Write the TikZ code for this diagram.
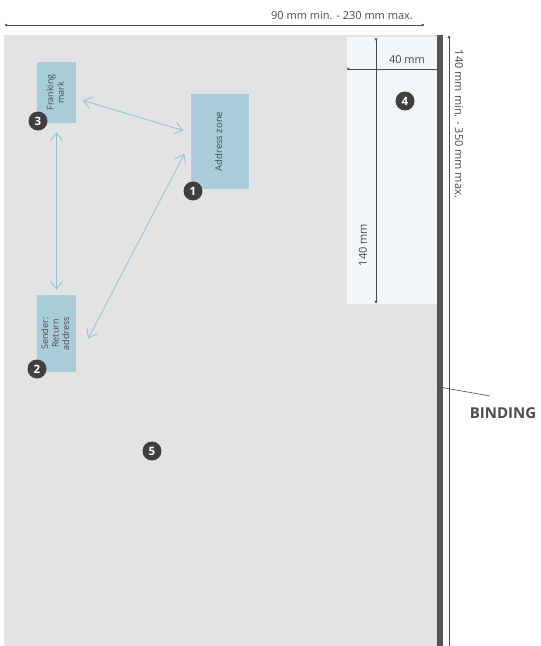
\documentclass[tikz,border=0pt]{standalone}
\usepackage{fontspec}
\setmainfont{Open Sans}
\usepackage{graphicx}
\usetikzlibrary{arrows.meta}
\usepackage{xcolor}

\definecolor{paper}{HTML}{E3E3E3}
\definecolor{zonefill}{HTML}{F2F6F8}
\definecolor{boxblue}{HTML}{A9CDD8}
\definecolor{linkblue}{HTML}{8CC4D4}
\definecolor{inkgrey}{HTML}{4A4A4A}
\definecolor{bargrey}{HTML}{555555}
\definecolor{badgegrey}{HTML}{3F3F3F}

\newcommand{\uptext}[1]{\rotatebox{90}{\begin{tabular}{@{}c@{}}#1\end{tabular}}}

\begin{document}
\begin{tikzpicture}[x=1pt, y=-1pt, font=\fontsize{9.5}{10.5}\selectfont,
    >={Straight Barb[length=8pt,width=12pt]},
    zone/.style={fill=boxblue, inner sep=0pt, text=inkgrey},
    badge/.style={circle, fill=badgegrey, text=white, inner sep=0pt,
        minimum size=19pt, font=\bfseries\fontsize{11.5}{12}\selectfont},
    link/.style={<->, draw=linkblue, line width=0.8pt},
    dimline/.style={draw=inkgrey, line width=0.6pt},
    dimtext/.style={text=inkgrey, font=\fontsize{11}{12}\selectfont}]
        \useasboundingbox (0,0) rectangle (541,646);

        % sheet, free zone next to the binding
        \fill[paper] (4,35) rectangle (437,646);
        \fill[zonefill] (347,37) rectangle (437,304);

        % dimensions of the free zone
        \coordinate (h0) at (376,38);
        \coordinate (h1) at (376,303);
        \draw[dimline, {Circle[length=2.5pt]}-{Circle[length=2.5pt]}] (h0) -- (h1);
        \node[dimtext, rotate=90] (hlabel) at (363,245) {140 mm};
        \coordinate (w0) at (347,69);
        \coordinate (w1) at (437,69);
        \draw[dimline, {Circle[length=2.5pt]}-] (w0) -- (w1);
        \node[dimtext] (wlabel) at (407,60) {40 mm};

        % binding edge
        \fill[bargrey] (437,35) rectangle (443,646);

        % overall sizes
        \coordinate (t0) at (5,25);
        \coordinate (t1) at (424,25);
        \draw[dimline, {Circle[length=2.5pt]}-{Circle[length=2.5pt]}] (t0) -- (t1);
        \node[dimtext] (tlabel) at (342,16) {90 mm min. - 230 mm max.};
        \coordinate (r0) at (449,36);
        \coordinate (r1) at (449,646);
        \draw[dimline, {Circle[length=2.5pt]}-] (r0) -- (r1);
        \node[dimtext, rotate=-90] (rlabel) at (459,124) {140 mm min. - 350 mm max.};

        % binding label
        \coordinate (bindpt) at (439,387);
        \coordinate (bindend) at (490,396);
        \draw[dimline] (bindpt) -- (bindend);
        \node[text=inkgrey, font=\bfseries\fontsize{15}{16}\selectfont] (binding) at (503,413) {BINDING};

        % zones on the front
        \node[zone, minimum width=39pt, minimum height=61pt, font=\fontsize{9}{10.5}\selectfont] (frank) at (56.5,92.5) {\uptext{Franking\\mark}};
        \node[zone, minimum width=58pt, minimum height=95pt] (addr) at (220,141.5) {\uptext{Address zone}};
        \node[zone, minimum width=39pt, minimum height=77pt, font=\fontsize{9}{10.5}\selectfont] (sender) at (56.5,333.5) {\uptext{Sender:\\Return\\address}};

        % relations between the zones
        \draw[link, shorten <=7pt, shorten >=8pt] (frank) -- (addr);
        \draw[link, shorten <=9pt, shorten >=5pt] (frank) -- (sender);
        \draw[link, shorten <=14pt, shorten >=26pt] (addr.west) -- (sender.-55);

        % numbered badges
        \node[badge] (n1) at (193,191) {1};
        \node[badge] (n2) at (37,369) {2};
        \node[badge] (n3) at (38,121) {3};
        \node[badge] (n4) at (405,101) {4};
        \node[badge] (n5) at (152,451) {5};
    \end{tikzpicture}
\end{document}
